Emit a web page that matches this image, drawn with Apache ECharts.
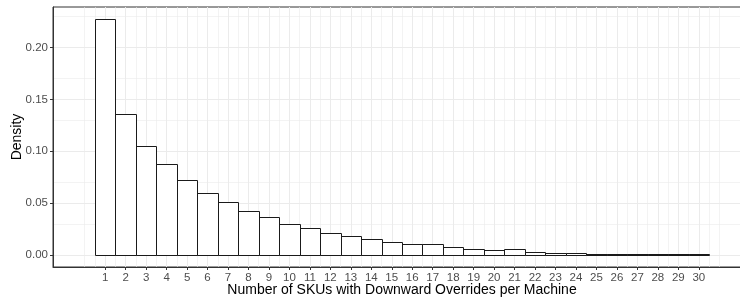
<!DOCTYPE html>
<html>
<head>
<meta charset="utf-8">
<script src="https://cdn.jsdelivr.net/npm/echarts@6/dist/echarts.min.js"></script>
<style>html,body{margin:0;padding:0;background:#fff}#c{width:740px;height:301px}</style>
</head>
<body>
<div id="c"></div>
<script>
// Data
var counts = [1,2,3,4,5,6,7,8,9,10,11,12,13,14,15,16,17,18,19,20,21,22,23,24,25,26,27,28,29,30];
var density = [0.2275,0.1355,0.1052,0.0873,0.0725,0.0596,0.0510,0.0429,0.0371,0.0298,
               0.0263,0.0211,0.0183,0.0155,0.0124,0.0104,0.0104,0.0076,0.0060,0.0047,
               0.0056,0.0031,0.0022,0.0022,0.0014,0.0014,0.0005,0.0005,0.0004,0.0004];
var xTicks = counts;
var yTicks = [0, 0.05, 0.10, 0.15, 0.20];
var xMinor = [0, 0.5,1.5,2.5,3.5,4.5,5.5,6.5,7.5,8.5,9.5,10.5,11.5,12.5,13.5,14.5,15.5,16.5,17.5,18.5,19.5,20.5,21.5,22.5,23.5,24.5,25.5,26.5,27.5,28.5,29.5,30.5,31];
var yMinor = [0.025,0.075,0.125,0.175,0.225];

var chart = echarts.init(document.getElementById('c'), null, {renderer:'canvas'});
var font = 'Liberation Sans, Arial, sans-serif';
var gridLines = [];
xMinor.forEach(function(v){ gridLines.push({xAxis:v, lineStyle:{width:0.6,color:'#ebebeb',type:'solid'}}); });
yMinor.forEach(function(v){ gridLines.push({yAxis:v, lineStyle:{width:0.6,color:'#ebebeb',type:'solid'}}); });
xTicks.forEach(function(v){ gridLines.push({xAxis:v, lineStyle:{width:1,color:'#ebebeb',type:'solid'}}); });
yTicks.forEach(function(v){ gridLines.push({yAxis:v, lineStyle:{width:1,color:'#ebebeb',type:'solid'}}); });

chart.setOption({
  animation:false,
  backgroundColor:'#fff',
  grid:{left:53, right:-11, top:7, bottom:34, containLabel:false, outerBoundsMode:'none',
        show:true, borderColor:'#333', borderWidth:1},
  xAxis:{
    type:'value', min:-1.55, max:32.55,
    name:'Number of SKUs with Downward Overrides per Machine',
    nameLocation:'middle', nameGap:16, nameMoveOverlap:false,
    nameTextStyle:{fontFamily:font, fontSize:14, color:'#000'},
    axisLine:{show:true, onZero:false, lineStyle:{color:'#333', width:1}},
    axisTick:{show:true, customValues:xTicks, length:3, lineStyle:{color:'#333'}},
    axisLabel:{customValues:xTicks, fontFamily:font, fontSize:11.5, color:'#4d4d4d', margin:5},
    splitLine:{show:false}
  },
  yAxis:{
    type:'value', min:-0.011375, max:0.238875,
    name:'Density', nameLocation:'middle', nameGap:29, nameMoveOverlap:false,
    nameTextStyle:{fontFamily:font, fontSize:14, color:'#000'},
    axisLine:{show:true, onZero:false, lineStyle:{color:'#333', width:1}},
    axisTick:{show:true, customValues:yTicks, length:3, lineStyle:{color:'#333'}},
    axisLabel:{customValues:yTicks, fontFamily:font, fontSize:11.5, color:'#4d4d4d', margin:5,
      formatter:function(v){ return v.toFixed(2); }},
    splitLine:{show:false}
  },
  series:[
    {
      type:'line', data:[], z:1, silent:true,
      markLine:{z:0, silent:true, symbol:['none','none'], label:{show:false}, animation:false,
        lineStyle:{type:'solid'}, emphasis:{disabled:true}, data:gridLines}
    },
    {
      type:'custom', z:6, silent:true,
      data: counts.map(function(c,i){ return [c, density[i]]; }),
      encode:{x:0, y:1},
      renderItem:function(params, api){
        var x = api.value(0), y = api.value(1);
        var p0 = api.coord([x-0.5, y]);
        var p1 = api.coord([x+0.5, 0]);
        var x0 = Math.round(p0[0])+0.5, x1 = Math.round(p1[0])+0.5;
        var y1 = Math.round(p1[1])+0.5;
        var y0 = Math.min(Math.round(p0[1])+0.5, y1-1);
        return {
          type:'group',
          children:[
            {type:'rect', z2:0, shape:{x:x0, y:y0, width:x1-x0, height:y1-y0},
             style:{fill:'#fff', stroke:null}},
            {type:'rect', z2:10, shape:{x:x0, y:y0, width:x1-x0, height:y1-y0},
             style:{fill:null, stroke:'#1a1a1a', lineWidth:1}}
          ]
        };
      }
    }
  ]
});
</script>
</body>
</html>
